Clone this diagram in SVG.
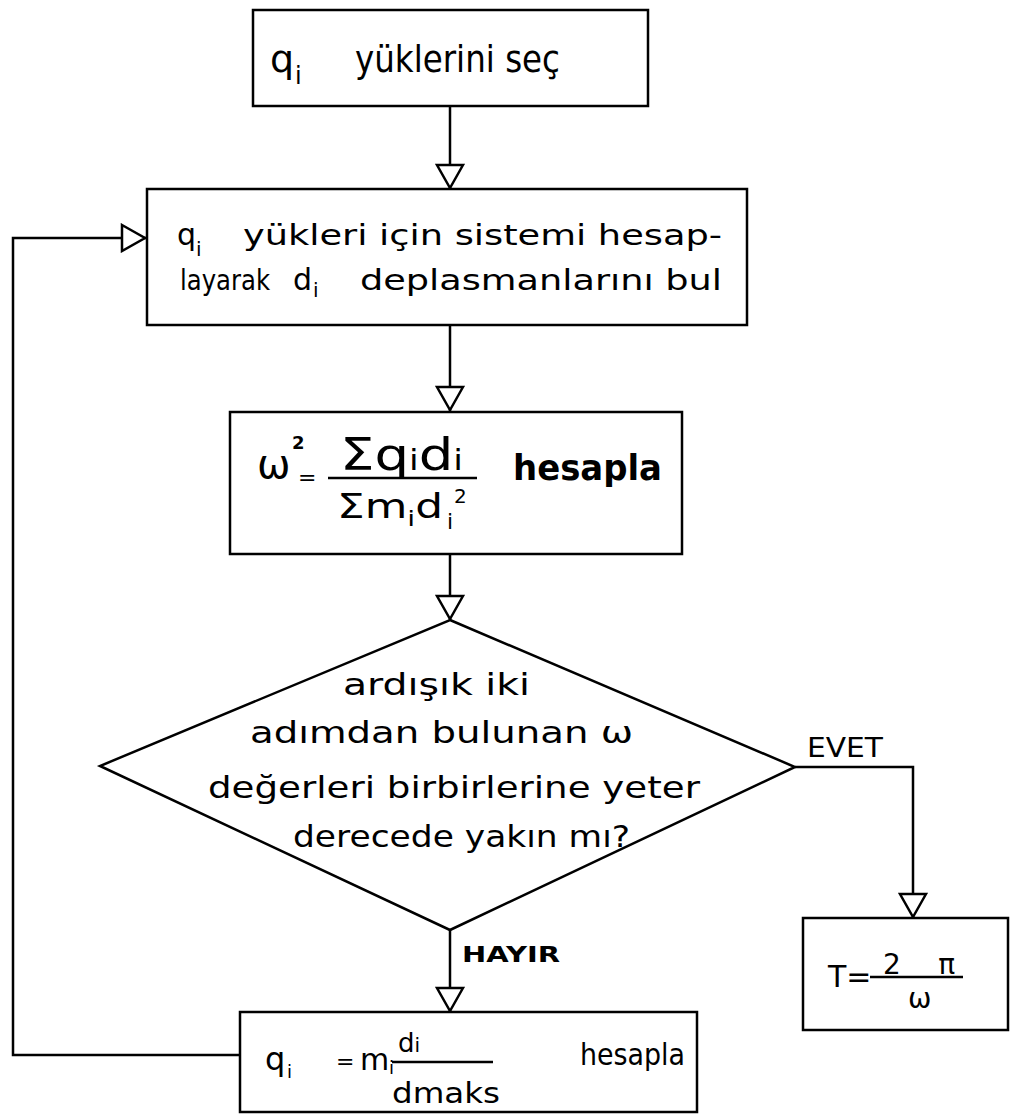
<svg xmlns="http://www.w3.org/2000/svg" width="1010" height="1115" viewBox="0 0 1010 1115">
<defs>
<style>
.box{fill:#fff;stroke:#000;stroke-width:2.5}
.con{fill:none;stroke:#000;stroke-width:2.5}
text{font-family:"DejaVu Sans","Liberation Sans",sans-serif;fill:#000}
.b{font-weight:bold}
</style>
<marker id="tri" viewBox="-3 -15 30 30" markerWidth="30" markerHeight="30" refX="24" refY="0" orient="auto" markerUnits="userSpaceOnUse">
<path d="M0,-13 L23,0 L0,13 Z" fill="#fff" stroke="#000" stroke-width="2.5"/>
</marker>
</defs>
<rect width="1010" height="1115" fill="#fff"/>

<g id="connectors">
<path class="con" d="M450,106 V189" marker-end="url(#tri)"/>
<path class="con" d="M450,325 V411" marker-end="url(#tri)"/>
<path class="con" d="M450,554 V620" marker-end="url(#tri)"/>
<path class="con" d="M450,930 V1012" marker-end="url(#tri)"/>
<path class="con" d="M795,767 H913 V918" marker-end="url(#tri)"/>
<path class="con" d="M240,1055 H13 V238 H146" marker-end="url(#tri)"/>
<text x="807" y="757" font-size="27" textLength="76" lengthAdjust="spacingAndGlyphs">EVET</text>
<text class="b" x="462" y="962" font-size="21" textLength="98" lengthAdjust="spacingAndGlyphs">HAYIR</text>
</g>

<g id="n1">
<rect class="box" x="253" y="10" width="395" height="96"/>
<text x="270" y="72" font-size="38">q</text>
<text x="295" y="84" font-size="24">i</text>
<text x="355" y="72" font-size="38" textLength="205" lengthAdjust="spacingAndGlyphs">yüklerini seç</text>
</g>

<g id="n2">
<rect class="box" x="147" y="189" width="600" height="136"/>
<text x="177" y="245" font-size="30">q</text>
<text x="196" y="256" font-size="20">i</text>
<text x="243" y="245" font-size="28" textLength="479" lengthAdjust="spacingAndGlyphs">yükleri için sistemi hesap-</text>
<text x="180" y="290" font-size="28" textLength="90" lengthAdjust="spacingAndGlyphs">layarak</text>
<text x="293" y="290" font-size="30">d</text>
<text x="313" y="297" font-size="20">i</text>
<text x="360" y="290" font-size="28" textLength="362" lengthAdjust="spacingAndGlyphs">deplasmanlarını bul</text>
</g>

<g id="n3">
<rect class="box" x="230" y="412" width="452" height="142"/>
<text x="257" y="478" font-size="40">ω</text>
<text class="b" x="292" y="449" font-size="18">2</text>
<text x="298" y="485" font-size="22">=</text>
<line class="con" x1="328" y1="478" x2="477" y2="478"/>
<text x="340" y="470" font-size="44" textLength="123" lengthAdjust="spacingAndGlyphs">Σq<tspan font-size="28">i</tspan>d<tspan font-size="28">i</tspan></text>
<text x="337" y="518" font-size="34" textLength="106" lengthAdjust="spacingAndGlyphs">Σm<tspan font-size="22" dy="8">i</tspan><tspan dy="-8">d</tspan></text>
<text x="447" y="529" font-size="22">i</text>
<text x="454" y="503" font-size="20">2</text>
<text class="b" x="513" y="480" font-size="36" textLength="149" lengthAdjust="spacingAndGlyphs">hesapla</text>
</g>

<g id="n4">
<polygon class="box" points="450,620 795,767 450,930 100,766"/>
<text x="343" y="695" font-size="30" textLength="187" lengthAdjust="spacingAndGlyphs">ardışık iki</text>
<text x="250" y="743" font-size="30" textLength="383" lengthAdjust="spacingAndGlyphs">adımdan bulunan ω</text>
<text x="208" y="798" font-size="30" textLength="492" lengthAdjust="spacingAndGlyphs">değerleri birbirlerine yeter</text>
<text x="293" y="847" font-size="30" textLength="337" lengthAdjust="spacingAndGlyphs">derecede yakın mı?</text>
</g>

<g id="n5">
<rect class="box" x="803" y="918" width="205" height="112"/>
<text x="828" y="987" font-size="30">T=</text>
<line class="con" x1="870" y1="977" x2="963" y2="977"/>
<text x="883" y="974" font-size="28" textLength="72">2π</text>
<text x="908" y="1008" font-size="28">ω</text>
</g>

<g id="n6">
<rect class="box" x="240" y="1012" width="457" height="100"/>
<text x="265" y="1070" font-size="32">q</text>
<text x="287" y="1078" font-size="18">i</text>
<text x="336" y="1069" font-size="22">=</text>
<text x="360" y="1070" font-size="30">m</text>
<text x="389" y="1074" font-size="18">i</text>
<text x="398" y="1052" font-size="26">d<tspan font-size="20">i</tspan></text>
<line class="con" x1="392" y1="1062" x2="493" y2="1062"/>
<text x="392" y="1103" font-size="28" textLength="108" lengthAdjust="spacingAndGlyphs">dmaks</text>
<text x="580" y="1065" font-size="30" textLength="105" lengthAdjust="spacingAndGlyphs">hesapla</text>
</g>
</svg>
